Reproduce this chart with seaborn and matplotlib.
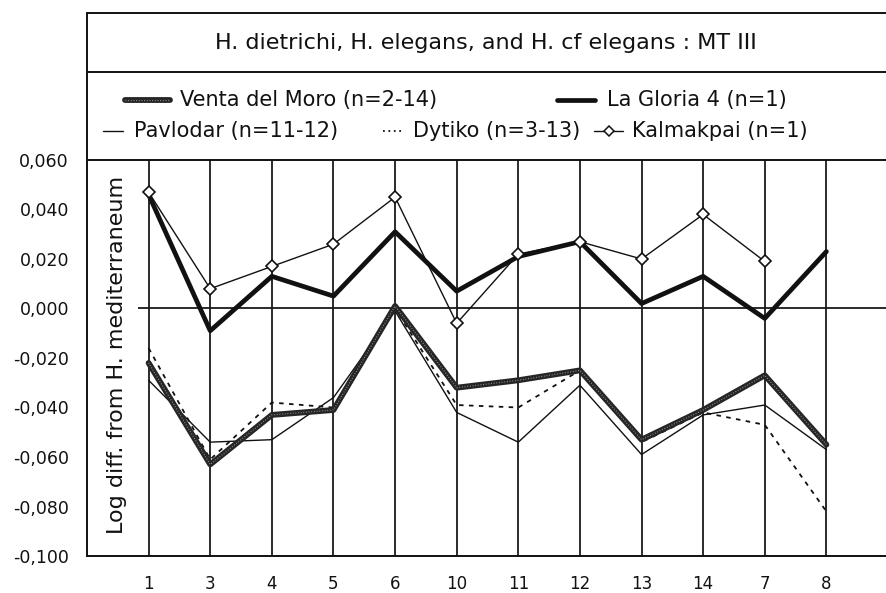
import numpy as np
import pandas as pd
import matplotlib
matplotlib.use("Agg")
import matplotlib.pyplot as plt
from matplotlib.lines import Line2D
import seaborn as sns

teeth = ["1", "3", "4", "5", "6", "10", "11", "12", "13", "14", "7", "8"]
venta = [-0.022, -0.063, -0.043, -0.041, 0.001, -0.032, -0.029, -0.025, -0.053, -0.041, -0.027, -0.055]
gloria = [0.046, -0.009, 0.013, 0.005, 0.031, 0.007, 0.021, 0.027, 0.002, 0.013, -0.004, 0.023]
pavlodar = [-0.029, -0.054, -0.053, -0.036, -0.001, -0.042, -0.054, -0.031, -0.059, -0.043, -0.039, -0.057]
dytiko = [-0.016, -0.061, -0.038, -0.040, 0.000, -0.039, -0.040, -0.025, -0.054, -0.042, -0.047, -0.082]
kalmakpai = [0.047, 0.008, 0.017, 0.026, 0.045, -0.006, 0.022, 0.027, 0.020, 0.038, 0.019, np.nan]
yticks = [0.06, 0.04, 0.02, 0.0, -0.02, -0.04, -0.06, -0.08, -0.10]
ytick_labels = ["0,060", "0,040", "0,020", "0,000", "-0,020", "-0,040", "-0,060", "-0,080", "-0,100"]

title = "H. dietrichi, H. elegans, and H. cf elegans : MT III"
names = ["Venta del Moro (n=2-14)", "La Gloria 4 (n=1)", "Pavlodar (n=11-12)",
         "Dytiko (n=3-13)", "Kalmakpai (n=1)"]

sns.set_theme(style="white")
plt.rcParams["font.family"] = ["DejaVu Sans"]

W, H = 886, 593
fig = plt.figure(figsize=(W / 100, H / 100), dpi=100)
fig.patch.set_facecolor("white")

def fx(px):
    return px / W

def fy(py):
    return 1 - py / H

ax_left, ax_right, ax_top, ax_bot = 87, 888, 160, 556
ax = fig.add_axes([fx(ax_left), fy(ax_bot), fx(ax_right - ax_left), fy(ax_top) - fy(ax_bot)])
ax.set_facecolor("white")

pos = np.arange(1, len(teeth) + 1)
df = pd.DataFrame({"pos": pos, "venta": venta, "gloria": gloria, "pavlodar": pavlodar,
                   "dytiko": dytiko, "kalmakpai": kalmakpai})

# vertical grid lines
for p in pos:
    ax.axvline(p, color="#1a1a1a", lw=1.3, zorder=1)
ax.hlines(0, 0.83, 13, color="#1a1a1a", lw=1.3, zorder=1)

sns.lineplot(data=df, x="pos", y="pavlodar", ax=ax, color="#111111", lw=1.0, sort=False, zorder=3)
sns.lineplot(data=df, x="pos", y="dytiko", ax=ax, color="#111111", lw=1.3, sort=False,
             linestyle=(0, (2.5, 3)), zorder=3)
sns.lineplot(data=df, x="pos", y="kalmakpai", ax=ax, color="#111111", lw=1.0, sort=False,
             marker="D", markersize=6.5, markerfacecolor="white", markeredgecolor="#111111",
             markeredgewidth=1.2, zorder=5)
sns.lineplot(data=df, x="pos", y="gloria", ax=ax, color="#111111", lw=3.4, sort=False, zorder=4)
sns.lineplot(data=df, x="pos", y="venta", ax=ax, color="#262626", lw=4.2, sort=False, zorder=4)
sns.lineplot(data=df, x="pos", y="venta", ax=ax, color="#9a9a9a", lw=0.8, sort=False,
             linestyle=(0, (0.8, 1.6)), zorder=4.5)

ax.set_xlim(0, 13)
ax.set_ylim(-0.10, 0.06)
ax.set_xticks(pos)
ax.set_xticklabels(teeth, fontsize=12, color="#111111")
ax.set_yticks(yticks)
ax.set_yticklabels(ytick_labels, fontsize=12.5, color="#111111")
ax.tick_params(axis="x", length=0, pad=14)
ax.tick_params(axis="y", direction="inout", length=9, width=1.1, color="#111111", pad=8.5)
ax.set_xlabel("")
ax.set_ylabel("")
for s in ["left", "bottom", "top"]:
    ax.spines[s].set_visible(True)
    ax.spines[s].set_color("#111111")
    ax.spines[s].set_linewidth(1.4)
ax.spines["right"].set_visible(False)

fig.text(fx(117), fy(355), "Log diff. from H. mediterraneum", rotation=90, ha="center",
         va="center", fontsize=16, color="#111111")

# header box
fig.add_artist(Line2D([fx(87), 1], [fy(13), fy(13)], color="#111111", lw=1.4))
fig.add_artist(Line2D([fx(87), 1], [fy(72), fy(72)], color="#111111", lw=1.4))
fig.add_artist(Line2D([fx(87), fx(87)], [fy(13), fy(160)], color="#111111", lw=1.4))
fig.text(fx(486), fy(43), title, ha="center", va="center", fontsize=16, color="#111111")

# legend
r1, r2 = 100, 131
fs = 15
fig.add_artist(Line2D([fx(125), fx(170)], [fy(r1), fy(r1)], color="#262626", lw=4.2))
fig.add_artist(Line2D([fx(125), fx(170)], [fy(r1), fy(r1)], color="#9a9a9a", lw=0.8,
                      linestyle=(0, (0.8, 1.6))))
fig.text(fx(180), fy(r1), names[0], ha="left", va="center", fontsize=fs, color="#111111")
fig.add_artist(Line2D([fx(557), fx(595)], [fy(r1), fy(r1)], color="#111111", lw=3.4))
fig.text(fx(607), fy(r1), names[1], ha="left", va="center", fontsize=fs, color="#111111")
fig.add_artist(Line2D([fx(103), fx(123)], [fy(r2), fy(r2)], color="#111111", lw=1.0))
fig.text(fx(134), fy(r2), names[2], ha="left", va="center", fontsize=fs, color="#111111")
fig.add_artist(Line2D([fx(383), fx(404)], [fy(r2), fy(r2)], color="#111111", lw=1.3,
                      linestyle=(0, (1, 2))))
fig.text(fx(413), fy(r2), names[3], ha="left", va="center", fontsize=fs, color="#111111")
fig.add_artist(Line2D([fx(594), fx(623)], [fy(r2), fy(r2)], color="#111111", lw=1.0))
fig.add_artist(Line2D([fx(608.5)], [fy(r2)], color="#111111", marker="D", markersize=5,
                      markerfacecolor="white", markeredgecolor="#111111", markeredgewidth=1.1))
fig.text(fx(632), fy(r2), names[4], ha="left", va="center", fontsize=fs, color="#111111")

fig.savefig("out.png", dpi=100, facecolor="white")
